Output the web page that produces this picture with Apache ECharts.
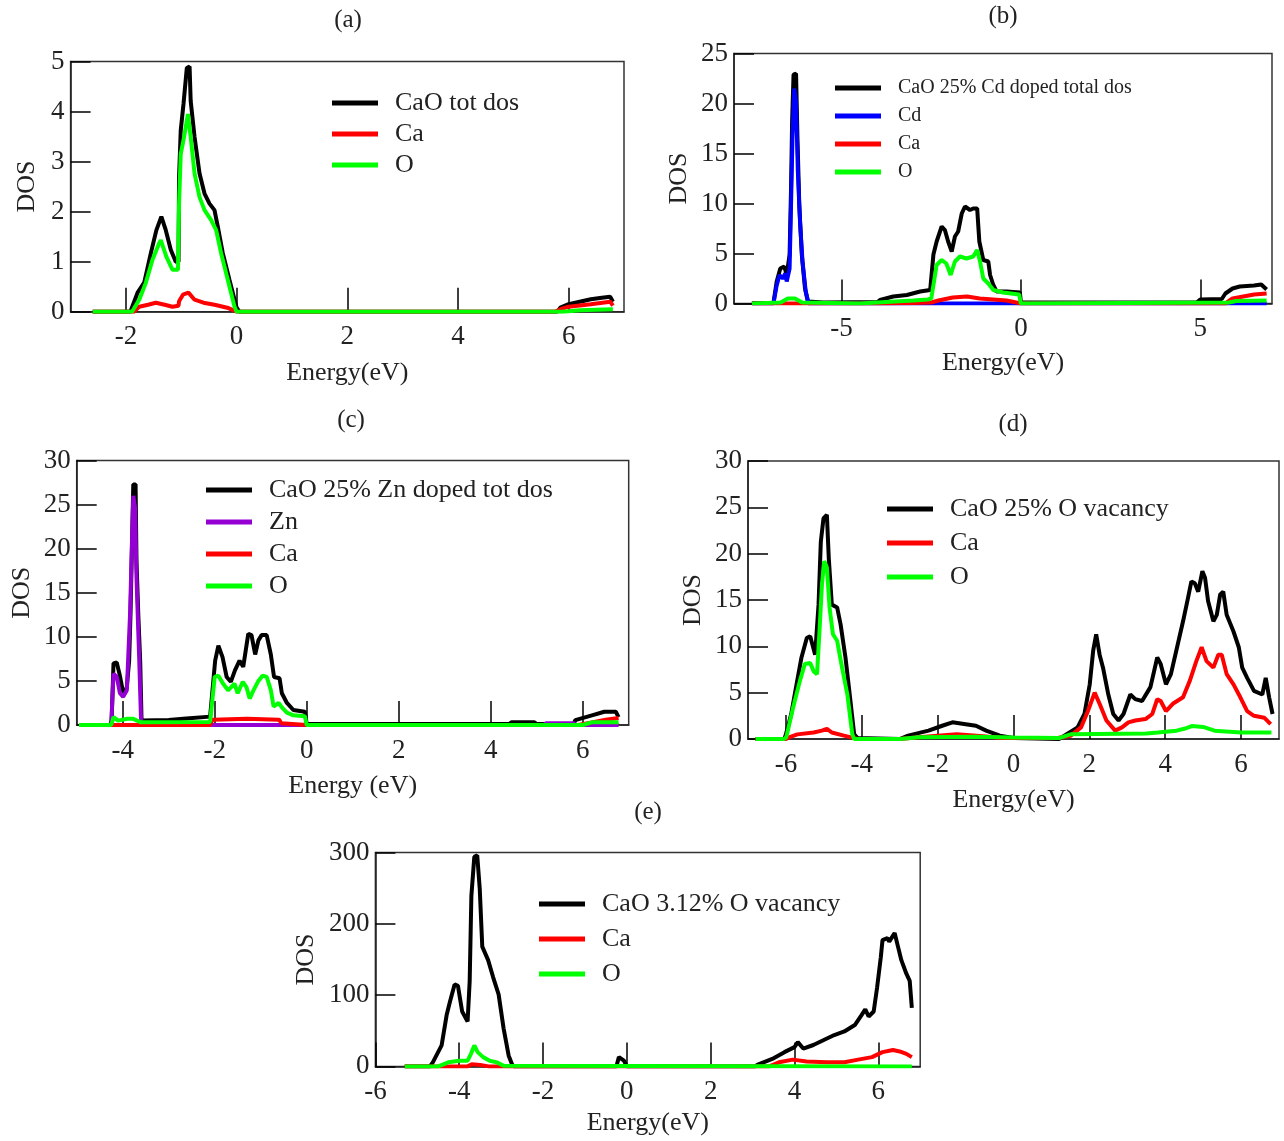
<!DOCTYPE html>
<html>
<head>
<meta charset="utf-8">
<script src="https://cdn.jsdelivr.net/npm/echarts@6/dist/echarts.min.js"></script>
<style>
  html, body { margin: 0; padding: 0; background: #fff; }
  #main { width: 1284px; height: 1141px; }
</style>
</head>
<body>
<div id="main"></div>
<script>
// ---- data: [energy (eV), DOS] ----
// (a) pure CaO
const aTot = [[-2.6,0],[-1.92,0],[-1.79,0.38],[-1.67,0.58],[-1.55,1.17],[-1.45,1.63],[-1.36,1.9],[-1.28,1.63],[-1.19,1.24],[-1.1,1.0],[-1.05,1.0],[-1.04,2.69],[-1.01,3.62],[-0.96,4.15],[-0.9,4.87],[-0.85,4.9],[-0.83,4.21],[-0.76,3.49],[-0.67,2.76],[-0.58,2.36],[-0.49,2.16],[-0.4,2.03],[-0.34,1.7],[-0.25,1.17],[-0.13,0.64],[0,0.08],[0.05,0],[5.8,0],[5.85,0.08],[6.0,0.15],[6.2,0.2],[6.4,0.25],[6.6,0.28],[6.75,0.3],[6.8,0.2]];
const aCa = [[-2.6,0],[-1.85,0],[-1.76,0.1],[-1.6,0.14],[-1.46,0.18],[-1.3,0.14],[-1.16,0.1],[-1.05,0.12],[-1.04,0.21],[-0.97,0.34],[-0.87,0.38],[-0.76,0.24],[-0.6,0.18],[-0.4,0.14],[-0.17,0.08],[0,0],[5.75,0],[5.85,0.05],[6.0,0.1],[6.4,0.15],[6.75,0.2],[6.8,0.12]];
const aO = [[-2.6,0],[-1.89,0],[-1.76,0.24],[-1.64,0.58],[-1.52,1.04],[-1.4,1.37],[-1.37,1.43],[-1.27,1.1],[-1.16,0.84],[-1.06,0.84],[-1.04,2.16],[-1.01,3.15],[-0.95,3.49],[-0.88,3.95],[-0.83,3.49],[-0.76,2.76],[-0.67,2.29],[-0.58,2.03],[-0.46,1.83],[-0.37,1.63],[-0.28,1.17],[-0.16,0.64],[-0.04,0.11],[0,0],[5.9,0],[6.2,0.03],[6.8,0.05]];

// (b) 25% Cd doped
const bTot = [[-7.5,0.05],[-6.9,0.05],[-6.81,2.2],[-6.71,3.5],[-6.6,3.7],[-6.53,2.9],[-6.45,4.9],[-6.41,11.5],[-6.38,18.2],[-6.34,22.9],[-6.27,23.0],[-6.23,16.5],[-6.18,9.9],[-6.11,4.9],[-6.02,1.5],[-5.94,0.2],[-5.5,0.1],[-4.0,0.15],[-3.93,0.35],[-3.56,0.7],[-3.18,0.85],[-2.81,1.2],[-2.53,1.35],[-2.44,4.9],[-2.35,6.2],[-2.21,7.7],[-2.12,7.35],[-2.03,6.2],[-1.93,5.2],[-1.84,6.7],[-1.75,7.2],[-1.65,9.0],[-1.56,9.7],[-1.42,9.35],[-1.33,9.5],[-1.22,9.5],[-1.16,6.2],[-1.05,4.35],[-0.91,4.2],[-0.86,2.85],[-0.77,1.85],[-0.68,1.2],[-0.4,1.2],[-0.03,1.1],[0,0.1],[4.9,0.1],[5.0,0.4],[5.6,0.45],[5.7,1.0],[5.9,1.5],[6.1,1.7],[6.5,1.8],[6.7,1.9],[6.85,1.4]];
const bCd = [[-7.5,0],[-6.9,0],[-6.81,1.8],[-6.73,2.85],[-6.64,2.5],[-6.57,3.0],[-6.53,2.2],[-6.45,3.5],[-6.41,9.8],[-6.37,16.5],[-6.32,21.5],[-6.27,20.2],[-6.22,13.2],[-6.16,8.2],[-6.09,4.2],[-6.0,1.2],[-5.92,0],[6.85,0]];
const bCa = [[-7.5,0],[-4.0,0],[-3.0,0.05],[-2.5,0.1],[-2.3,0.3],[-1.9,0.6],[-1.5,0.7],[-1.15,0.5],[-0.4,0.3],[0,0],[5.7,0],[5.9,0.5],[6.2,0.7],[6.5,0.9],[6.85,1.0]];
const bO = [[-7.5,0],[-6.7,0.1],[-6.5,0.5],[-6.3,0.5],[-6.1,0.1],[-4.5,0],[-4.0,0.1],[-3.0,0.3],[-2.6,0.4],[-2.5,0.5],[-2.35,3.85],[-2.21,4.35],[-2.08,4.0],[-1.96,2.85],[-1.84,4.2],[-1.7,4.7],[-1.52,4.5],[-1.33,4.7],[-1.22,5.35],[-1.14,4.2],[-1.05,2.5],[-0.91,2.0],[-0.77,1.35],[-0.5,1.1],[-0.05,0.9],[0,0],[5.8,0.1],[6.0,0.25],[6.85,0.3]];

// (c) 25% Zn doped
const cTot = [[-4.95,0],[-4.27,0],[-4.24,0.56],[-4.2,7.0],[-4.13,7.1],[-4.07,5.8],[-4.0,3.95],[-3.95,3.6],[-3.91,4.3],[-3.86,7.3],[-3.83,12.6],[-3.79,22.4],[-3.77,27.3],[-3.72,27.3],[-3.7,18.6],[-3.66,12.4],[-3.62,7.3],[-3.59,0.5],[-3.0,0.56],[-2.98,0.75],[-2.62,0.75],[-2.6,0.95],[-2.1,0.95],[-2.07,1.0],[-1.99,7.3],[-1.92,9.0],[-1.83,7.7],[-1.74,5.45],[-1.65,4.9],[-1.56,6.2],[-1.46,7.3],[-1.38,6.6],[-1.27,10.35],[-1.2,10.2],[-1.12,8.0],[-1.05,9.6],[-0.98,10.2],[-0.87,10.2],[-0.78,8.0],[-0.71,5.45],[-0.59,5.3],[-0.54,3.6],[-0.43,2.5],[-0.29,1.7],[-0.04,1.5],[0,0.1],[4.4,0.1],[4.45,0.3],[4.95,0.3],[5.0,0.1],[5.8,0.1],[5.84,0.55],[6.2,1.1],[6.47,1.5],[6.72,1.5],[6.78,0.9]];
const cZn = [[-4.95,0],[-4.25,0],[-4.2,5.8],[-4.13,5.5],[-4.06,3.6],[-3.99,3.2],[-3.91,3.95],[-3.84,12.6],[-3.8,20.5],[-3.77,26.0],[-3.73,24.6],[-3.7,16.7],[-3.64,7.3],[-3.6,0.3],[-3.5,0],[5.15,0],[5.2,0.2],[5.8,0.2],[5.85,0],[6.78,0]];
const cCa = [[-4.95,0],[-2.1,0],[-2.05,0.6],[-1.3,0.7],[-0.6,0.6],[-0.55,0.2],[0,0],[5.9,0],[6.2,0.3],[6.5,0.6],[6.78,0.8]];
const cO = [[-4.95,0],[-4.25,0],[-4.2,0.9],[-4.1,0.5],[-3.9,0.7],[-3.77,0.7],[-3.6,0.3],[-2.1,0.35],[-2.0,5.45],[-1.92,5.6],[-1.82,4.7],[-1.71,3.95],[-1.64,4.3],[-1.57,4.7],[-1.5,3.6],[-1.39,4.9],[-1.31,4.3],[-1.24,3.0],[-1.16,3.9],[-1.05,5.0],[-0.96,5.6],[-0.87,5.45],[-0.78,3.95],[-0.72,2.1],[-0.61,2.5],[-0.54,2.0],[-0.43,1.4],[-0.29,1.1],[-0.04,1.0],[0,0],[6.0,0],[6.2,0.3],[6.78,0.3]];

// (d) 25% O vacancy
const dTot = [[-6.8,0],[-6.05,0],[-6.01,0.36],[-5.86,2.7],[-5.72,5.9],[-5.59,8.8],[-5.45,10.9],[-5.36,11.1],[-5.23,9.1],[-5.14,14.5],[-5.08,21.3],[-5.01,23.8],[-4.92,24.2],[-4.87,19.5],[-4.79,14.5],[-4.65,14.2],[-4.56,12.4],[-4.43,8.8],[-4.34,5.6],[-4.2,0.5],[-4.11,0.1],[-3.0,0],[-2.78,0.36],[-2.24,0.9],[-1.88,1.43],[-1.61,1.8],[-1.26,1.6],[-0.99,1.43],[-0.72,0.9],[-0.36,0.36],[0,0.1],[1.2,0],[1.34,0.36],[1.69,1.25],[1.87,2.7],[2.01,5.9],[2.1,9.5],[2.18,11.3],[2.27,9.1],[2.36,7.7],[2.5,4.8],[2.63,2.7],[2.77,2.0],[2.9,2.7],[3.08,4.8],[3.21,4.3],[3.39,4.1],[3.61,5.6],[3.79,8.8],[3.88,8.1],[4.02,5.9],[4.15,7.0],[4.29,9.5],[4.47,12.7],[4.6,15.2],[4.69,17.0],[4.78,16.8],[4.87,15.9],[4.98,18.1],[5.05,17.4],[5.13,14.9],[5.27,12.7],[5.36,13.4],[5.45,15.6],[5.53,15.9],[5.62,13.4],[5.8,11.6],[5.94,9.9],[6.03,7.7],[6.16,6.6],[6.34,5.2],[6.56,4.8],[6.65,6.6],[6.74,4.5],[6.83,2.7]];
const dCa = [[-6.8,0],[-6.0,0],[-5.9,0.2],[-5.7,0.5],[-5.27,0.7],[-5.05,0.9],[-4.92,1.1],[-4.79,0.7],[-4.47,0.36],[-4.2,0.1],[-4.1,0],[-3.0,0],[-2.5,0.2],[-1.5,0.5],[-0.8,0.3],[-0.3,0.1],[1.16,0.1],[1.51,0.36],[1.78,1.25],[1.96,3.0],[2.14,5.0],[2.27,3.8],[2.45,2.0],[2.68,0.9],[2.86,1.25],[3.03,1.8],[3.21,2.0],[3.48,2.15],[3.66,2.7],[3.79,4.3],[3.88,4.1],[4.02,3.0],[4.2,3.8],[4.47,4.5],[4.65,6.3],[4.82,8.4],[4.96,9.9],[5.09,8.4],[5.27,7.7],[5.4,9.1],[5.49,9.1],[5.62,7.0],[5.8,5.9],[5.98,4.5],[6.16,3.0],[6.34,2.5],[6.61,2.3],[6.78,1.6]];
const dO = [[-6.8,0],[-6.05,0],[-5.99,0.2],[-5.81,3.4],[-5.63,6.3],[-5.5,8.1],[-5.36,8.2],[-5.27,7.3],[-5.18,7.0],[-5.12,11.3],[-5.05,16.7],[-4.99,19.2],[-4.92,18.5],[-4.85,14.2],[-4.76,11.3],[-4.65,10.6],[-4.52,7.7],[-4.38,4.8],[-4.25,0.5],[-4.2,0],[-3.0,0],[-2.5,0.2],[-1.0,0.25],[0,0.15],[1.2,0.1],[1.5,0.5],[3.5,0.6],[3.8,0.7],[4.3,0.9],[4.5,1.1],[4.7,1.4],[5.0,1.3],[5.3,0.9],[6.0,0.7],[6.8,0.7]];

// (e) 3.12% O vacancy
const eTot = [[-5.3,0],[-4.7,0],[-4.63,5.7],[-4.42,29.5],[-4.3,72],[-4.22,91],[-4.11,115],[-4.03,113],[-3.93,77],[-3.8,63],[-3.75,120],[-3.71,239],[-3.64,294],[-3.57,296],[-3.51,249],[-3.45,168],[-3.31,149],[-3.19,125],[-3.06,101],[-2.94,53],[-2.82,15],[-2.74,3],[-2.7,0],[-0.25,0],[-0.19,13],[-0.07,8],[0,0],[3.05,0],[3.14,3],[3.47,10.5],[3.76,20],[4.0,27],[4.08,34],[4.21,25],[4.45,30],[4.7,37],[4.95,44],[5.19,49],[5.44,58],[5.6,72],[5.69,80],[5.77,70],[5.89,77],[5.97,110],[6.06,153],[6.1,177],[6.22,180],[6.26,175],[6.39,187],[6.47,168],[6.55,149],[6.67,130],[6.75,120],[6.8,82]];
const eCa = [[-5.3,0],[-3.8,0],[-3.7,3],[-3.5,2],[-3.3,0],[3.4,0],[3.63,5.7],[3.96,9.5],[4.29,7],[4.78,5.7],[5.19,5.7],[5.52,9.5],[5.85,13],[6.1,20],[6.35,23],[6.51,21],[6.67,17.6],[6.8,13]];
const eO = [[-5.3,0],[-4.5,0],[-4.26,5.7],[-4.0,8],[-3.8,8],[-3.72,17.6],[-3.64,29.5],[-3.56,20],[-3.43,13],[-3.27,8],[-3.1,5.7],[-2.94,1],[-2.9,0],[6.8,0]];

// tick values for every panel
const xTicksA = [-2, 0, 2, 4, 6];
const xTicksB = [-5, 0, 5];
const xTicksC = [-4, -2, 0, 2, 4, 6];
const xTicksD = [-6, -4, -2, 0, 2, 4, 6];
const xTicksE = [-6, -4, -2, 0, 2, 4, 6];

const FONT = "'Liberation Serif', 'DejaVu Serif', serif";

// panel layout: grid box, axis ranges, legend placement
const panels = [
  {tag: '(a)', tagPos: [348, 20], grid: [70.6, 61.5, 553.4, 250.2], x: [-3, 7], xt: xTicksA, y: [0, 5, 1], xName: 'Energy(eV)', xGap: 48, yGap: 30,
   leg: [327, 85], legFont: 26, legGap: 5,
   lines: [['CaO tot dos', aTot, '#000000'], ['Ca', aCa, '#ff0000'], ['O', aO, '#00ff00']]},
  {tag: '(b)', tagPos: [1003, 16], grid: [734, 53.5, 538, 250], x: [-8, 7], xt: xTicksB, y: [0, 25, 5], xName: 'Energy(eV)', xGap: 47, yGap: 42,
   leg: [830, 73], legFont: 20, legGap: 8,
   lines: [['CaO 25% Cd doped total dos', bTot, '#000000'], ['Cd', bCd, '#0000ff'], ['Ca', bCa, '#ff0000'], ['O', bO, '#00ff00']]},
  {tag: '(c)', tagPos: [351, 420], grid: [76.7, 460.6, 552, 264.4], x: [-5, 7], xt: xTicksC, y: [0, 30, 5], xName: 'Energy (eV)', xGap: 48, yGap: 42,
   leg: [201, 472], legFont: 26, legGap: 6,
   lines: [['CaO 25% Zn doped tot dos', cTot, '#000000'], ['Zn', cZn, '#9400d3'], ['Ca', cCa, '#ff0000'], ['O', cO, '#00ff00']]},
  {tag: '(d)', tagPos: [1013, 424], grid: [748, 461, 531, 278], x: [-7, 7], xt: xTicksD, y: [0, 30, 5], xName: 'Energy(eV)', xGap: 48, yGap: 42,
   leg: [882, 491], legFont: 26, legGap: 8,
   lines: [['CaO 25% O vacancy', dTot, '#000000'], ['Ca', dCa, '#ff0000'], ['O', dO, '#00ff00']]},
  {tag: '(e)', tagPos: [648, 812], grid: [375.4, 852.5, 544.8, 213.9], x: [-6, 7], xt: xTicksE, y: [0, 300, 100], xName: 'Energy(eV)', xGap: 44, yGap: 56,
   leg: [534, 886], legFont: 26, legGap: 9,
   lines: [['CaO 3.12% O vacancy', eTot, '#000000'], ['Ca', eCa, '#ff0000'], ['O', eO, '#00ff00']]}
];

const option = {
  animation: false,
  backgroundColor: '#ffffff',
  grid: [], xAxis: [], yAxis: [], series: [], legend: [], graphic: []
};

panels.forEach((p, i) => {
  option.grid.push({
    left: p.grid[0], top: p.grid[1], width: p.grid[2], height: p.grid[3],
    show: true, borderColor: '#333', borderWidth: 1.5, backgroundColor: 'transparent'
  });
  option.xAxis.push({
    type: 'value', gridIndex: i, min: p.x[0], max: p.x[1],
    name: p.xName, nameLocation: 'middle', nameGap: p.xGap,
    nameTextStyle: {fontFamily: FONT, fontSize: 26, color: '#222'},
    axisLine: {onZero: false, lineStyle: {color: '#222', width: 1.5}},
    axisTick: {inside: true, length: 24, customValues: p.xt, lineStyle: {color: '#000', width: 1.5}},
    axisLabel: {customValues: p.xt, margin: 12, fontFamily: FONT, fontSize: 27, color: '#222'},
    splitLine: {show: false}
  });
  option.yAxis.push({
    type: 'value', gridIndex: i, min: p.y[0], max: p.y[1], interval: p.y[2],
    name: 'DOS', nameLocation: 'middle', nameGap: p.yGap, nameRotate: 90,
    nameTextStyle: {fontFamily: FONT, fontSize: 26, color: '#222'},
    axisLine: {onZero: false, lineStyle: {color: '#222', width: 1.5}},
    axisTick: {inside: true, length: 20, lineStyle: {color: '#000', width: 1.5}},
    axisLabel: {margin: 6, fontFamily: FONT, fontSize: 27, color: '#222'},
    splitLine: {show: false}
  });
  p.lines.forEach(l => {
    option.series.push({
      name: l[0], type: 'line', xAxisIndex: i, yAxisIndex: i,
      data: l[1], showSymbol: false, symbol: 'none',
      lineStyle: {color: l[2], width: 4}, itemStyle: {color: l[2]}
    });
  });
  option.legend.push({
    orient: 'vertical', left: p.leg[0], top: p.leg[1],
    data: p.lines.map(l => l[0]), icon: 'rect', itemWidth: 46, itemHeight: 5,
    itemGap: p.legGap, selectedMode: false,
    textStyle: {fontFamily: FONT, fontSize: p.legFont, color: '#222', padding: [0, 0, 0, 12]}
  });
  option.graphic.push({
    type: 'text', x: p.tagPos[0], y: p.tagPos[1],
    style: {text: p.tag, font: '25px ' + FONT, fill: '#222',
            align: 'center', verticalAlign: 'middle', textAlign: 'center', textVerticalAlign: 'middle'}
  });
});

const chart = echarts.init(document.getElementById('main'));
chart.setOption(option);
</script>
</body>
</html>
